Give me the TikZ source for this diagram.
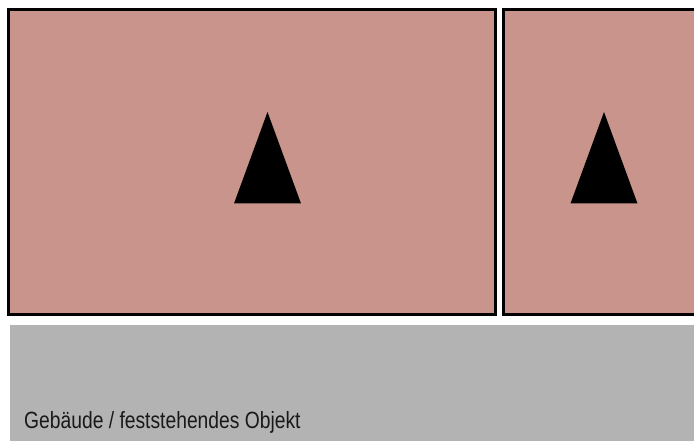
\documentclass[tikz,border=0pt]{standalone}
\usepackage{fontspec}
\setmainfont{Liberation Sans}[FakeStretch=0.82]
\definecolor{roomfill}{HTML}{C8948B}
\definecolor{bandgray}{HTML}{B3B3B3}
\begin{document}
\begin{tikzpicture}[x=1pt,y=-1pt,
  room/.style={fill=roomfill,draw=black,line width=3pt},
  marker/.style={fill=black,draw=none}]
\useasboundingbox (0,0) rectangle (694,441);
\begin{scope}
\clip (0,0) rectangle (694,441);
\fill[white] (0,0) rectangle (694,441);
\draw[room] (8.5,9.5) rectangle (495.5,314.5);
\draw[room] (503.5,9.5) rectangle (710,314.5);
\fill[bandgray] (10,325) rectangle (700,445);
\fill[marker] (267.5,112) -- (301,203.5) -- (234,203.5) -- cycle;
\fill[marker] (604,112) -- (637.5,203.5) -- (570.5,203.5) -- cycle;
\end{scope}
\node[anchor=base west,inner sep=0pt,font=\fontsize{23.5}{26}\selectfont,text=black!90] (label) at (24,428.5) {Gebäude / feststehendes Objekt};
\end{tikzpicture}
\end{document}
